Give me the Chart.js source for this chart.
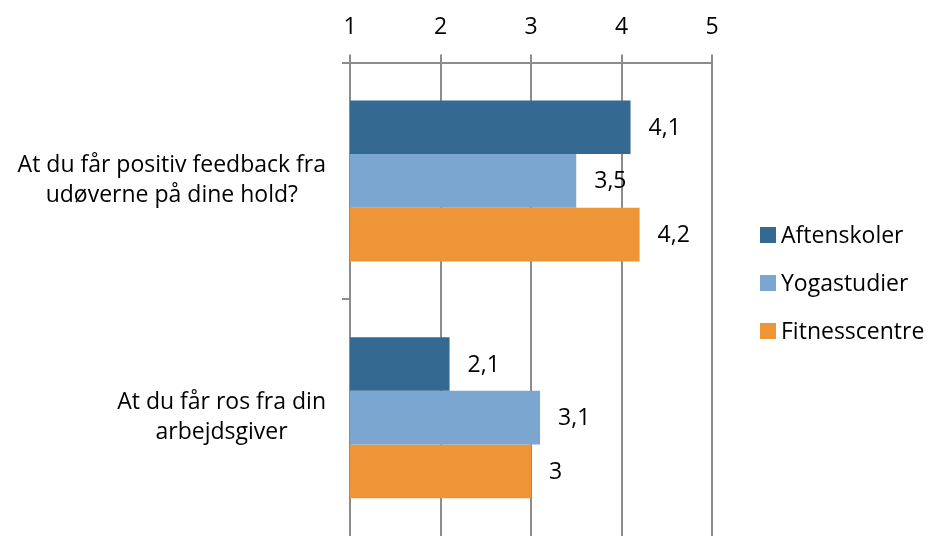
<!DOCTYPE html>
<html>
<head>
<meta charset="utf-8">
<script src="https://cdn.jsdelivr.net/npm/chart.js@4.4.0/dist/chart.umd.min.js"></script>
<style>
  body { margin: 0; background: #fff; }
  canvas { display: block; }
</style>
</head>
<body>
<canvas id="chart" width="931" height="536"></canvas>
<script>
// Data
const categories = [
    ["At du får positiv feedback fra", "udøverne på dine hold?"],
    ["At du får ros fra din", "arbejdsgiver"]
];
const seriesNames = ["Aftenskoler", "Yogastudier", "Fitnesscentre"];
const aftenskoler = [4.1, 2.1];
const yogastudier = [3.5, 3.1];
const fitnesscentre = [4.2, 3];
const xTicks = [1, 2, 3, 4, 5];

const colors = ["#346A92", "#7AA6CF", "#EE9538"];
const gridColor = "#8c8c8c";
const fontFamily = "'Open Sans', 'Liberation Sans', sans-serif";
const fontSize = 23;

const fmt = v => String(v).replace(".", ",");

// value labels at the end of each bar
const valueLabels = {
    id: "valueLabels",
    afterDatasetsDraw(chart) {
        const ctx = chart.ctx;
        ctx.save();
        ctx.font = fontSize + "px " + fontFamily;
        ctx.fillStyle = "#000";
        ctx.textAlign = "left";
        ctx.textBaseline = "middle";
        chart.data.datasets.forEach((ds, i) => {
            chart.getDatasetMeta(i).data.forEach((bar, j) => {
                ctx.fillText(fmt(ds.data[j]), bar.x + 18, bar.y + 1);
            });
        });
        ctx.restore();
    }
};

// category labels: block right aligned, lines centred within the block
const categoryLabels = {
    id: "categoryLabels",
    afterDraw(chart) {
        const ctx = chart.ctx;
        const yScale = chart.scales.y;
        ctx.save();
        ctx.font = fontSize + "px " + fontFamily;
        ctx.fillStyle = "#000";
        ctx.textAlign = "center";
        ctx.textBaseline = "middle";
        const right = yScale.left - 16;
        const lineH = 30;
        chart.data.labels.forEach((lines, i) => {
            const y = yScale.getPixelForTick(i);
            const widest = Math.max(...lines.map(l => ctx.measureText(l).width));
            const cx = right - widest / 2;
            lines.forEach((l, k) => {
                ctx.fillText(l, cx, y + (k - (lines.length - 1) / 2) * lineH);
            });
        });
        ctx.restore();
    }
};

// legend on the right
const sideLegend = {
    id: "sideLegend",
    afterDraw(chart) {
        const ctx = chart.ctx;
        ctx.save();
        ctx.font = fontSize + "px " + fontFamily;
        ctx.textAlign = "left";
        ctx.textBaseline = "middle";
        const x = 760, y0 = 235, step = 48, box = 16;
        chart.data.datasets.forEach((ds, i) => {
            const y = y0 + i * step;
            ctx.fillStyle = ds.backgroundColor;
            ctx.fillRect(x, y - box / 2, box, box);
            ctx.fillStyle = "#000";
            ctx.fillText(ds.label, x + box + 5, y + 1);
        });
        ctx.restore();
    }
};

new Chart(document.getElementById("chart"), {
    type: "bar",
    data: {
        labels: categories,
        datasets: [aftenskoler, yogastudier, fitnesscentre].map((d, i) => ({
            label: seriesNames[i],
            data: d,
            backgroundColor: colors[i],
            borderWidth: 0,
            categoryPercentage: 0.68,
            barPercentage: 1
        }))
    },
    options: {
        indexAxis: "y",
        responsive: false,
        animation: false,
        layout: { padding: { left: 342, right: 219, top: 1, bottom: 0 } },
        plugins: {
            legend: { display: false },
            tooltip: { enabled: false }
        },
        scales: {
            x: {
                position: "top",
                min: 1,
                max: 5,
                afterBuildTicks: axis => { axis.ticks = xTicks.map(v => ({ value: v })); },
                ticks: {
                    font: { size: fontSize, family: fontFamily },
                    color: "#000",
                    padding: 13,
                    maxRotation: 0
                },
                grid: { color: gridColor, lineWidth: 2, tickLength: 8 },
                border: { color: gridColor, width: 2 }
            },
            y: {
                ticks: { display: false },
                grid: {
                    // the bottom boundary tick falls outside the picture in the reference
                    color: c => (c.type === "tick" ? gridColor : "rgba(0,0,0,0)"),
                    lineWidth: 2,
                    tickLength: 8,
                    drawOnChartArea: false,
                    offset: true
                },
                border: { color: gridColor, width: 2 }
            }
        }
    },
    plugins: [valueLabels, categoryLabels, sideLegend]
});
</script>
</body>
</html>
